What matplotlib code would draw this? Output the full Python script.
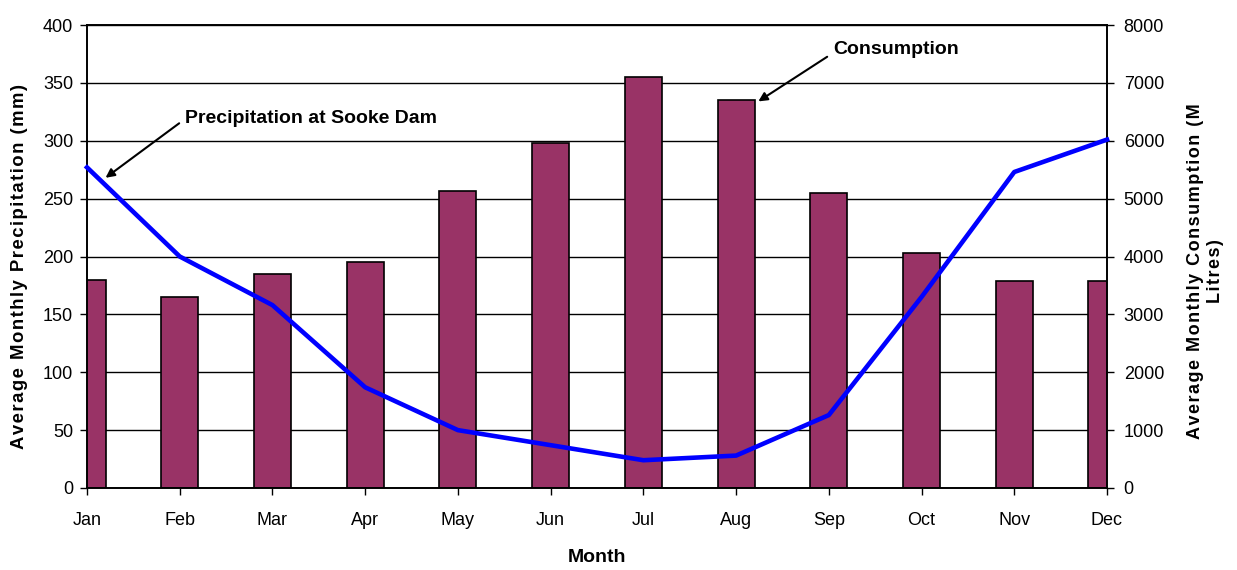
import matplotlib
matplotlib.use("Agg")
import matplotlib.pyplot as plt
import numpy as np

months = ["Jan", "Feb", "Mar", "Apr", "May", "Jun", "Jul", "Aug", "Sep", "Oct", "Nov", "Dec"]
consumption = [3600, 3300, 3700, 3900, 5130, 5960, 7100, 6700, 5100, 4060, 3580, 3580]
precipitation = [277, 200, 158, 87, 50, 37, 24, 28, 63, 165, 273, 301]
left_ticks = [0, 50, 100, 150, 200, 250, 300, 350, 400]
right_ticks = [0, 1000, 2000, 3000, 4000, 5000, 6000, 7000, 8000]

plt.rcParams['font.family'] = ['Liberation Sans', 'DejaVu Sans']


def spaced(s):
    return "\u200a".join(s)


fig = plt.figure(figsize=(12.37, 5.70), dpi=100)
W, H = 1237, 570
ax = fig.add_axes([87 / W, 1 - 488 / H, (1107 - 87) / W, (488 - 25) / H])
ax2 = ax.twinx()

x = np.arange(len(months))
ax2.bar(x, consumption, width=0.4, color="#993366", edgecolor="black", linewidth=1.2, zorder=2)
ax2.set_ylim(0, 8000)
ax2.set_yticks(right_ticks)
ax2.set_yticklabels([str(t) for t in right_ticks], fontsize=13)

ax.set_ylim(0, 400)
ax.set_xlim(0, 11)
ax.set_yticks(left_ticks)
ax.set_yticklabels([str(t) for t in left_ticks], fontsize=13)
ax.set_xticks(x)
ax.set_xticklabels(months, fontsize=13)
for t in left_ticks:
    ax2.axhline(t * 20, color="black", linewidth=1, zorder=1)

ax.set_zorder(ax2.get_zorder() + 1)
ax.patch.set_visible(False)
ax.plot(x, precipitation, color="#0000FF", linewidth=3.3, zorder=5, clip_on=False)

for a in (ax, ax2):
    a.tick_params(direction="out", length=5, width=1, colors="black")
    for s in a.spines.values():
        s.set_linewidth(1.2)
ax.tick_params(axis="x", pad=12)
ax.tick_params(axis="y", pad=5)
ax2.tick_params(axis="y", pad=7)

ax.set_ylabel(spaced("Average Monthly Precipitation (mm)"), fontsize=13.3, fontweight="bold")
ax.yaxis.set_label_coords(-59 / 1020, 0.478)
ax2.set_ylabel(spaced("Average Monthly Consumption (M") + "\n" + spaced("Litres)"),
               fontsize=13, fontweight="bold", linespacing=1.25)
ax2.yaxis.set_label_coords(1 + 80 / 1020, 0.468)
ax.set_xlabel("Month", fontsize=14, fontweight="bold", labelpad=15)

ax.annotate("Precipitation at Sooke Dam", xy=(0.2, 268), xytext=(1.06, 319),
            fontsize=14, fontweight="bold", va="center", ha="left",
            arrowprops=dict(arrowstyle="-|>", color="black", lw=1.5, mutation_scale=13,
                            shrinkA=3, shrinkB=0, relpos=(0, 0.5)))
ax.annotate("Consumption", xy=(7.24, 334), xytext=(8.05, 379),
            fontsize=14, fontweight="bold", va="center", ha="left",
            arrowprops=dict(arrowstyle="-|>", color="black", lw=1.5, mutation_scale=13,
                            shrinkA=3, shrinkB=0, relpos=(0, 0.3)))

fig.savefig("out.png", dpi=100)
